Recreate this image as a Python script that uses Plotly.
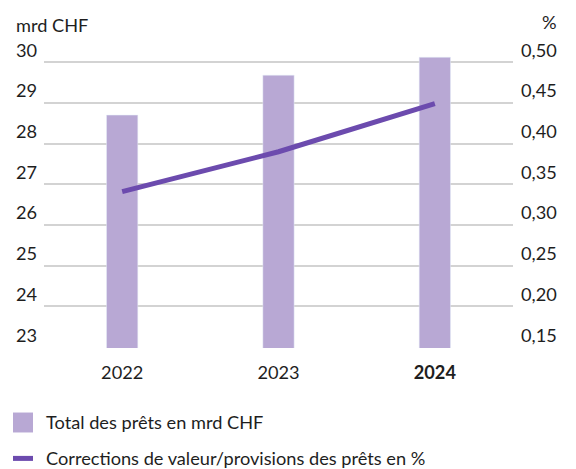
import plotly.graph_objects as go

years = ["2022", "2023", "2024"]
year_labels = ["2022", "2023", "<b>2024</b>"]
loans_bn = [28.70, 29.68, 30.12]
provisions_pct = [0.341, 0.390, 0.449]
left_ticks = [23, 24, 25, 26, 27, 28, 29, 30]
right_ticks = [0.15, 0.20, 0.25, 0.30, 0.35, 0.40, 0.45, 0.50]
bar_name = "Total des prêts en mrd CHF"
line_name = "Corrections de valeur/provisions des prêts en %"
left_title = "mrd CHF"
right_title = "%"

BAR_COLOR = "#B8A8D4"
LINE_COLOR = "#6C4BAE"
GRID = "#D3D3D3"
TEXT = "#1E1E1E"
FONT = "Lato"
FS = 18.2

W, H = 576, 469
ML, MR, MT, MB = 44, 63, 51.5, 120.7
L0, L1 = 22.98, 30.25
R0, R1 = 0.15 + (L0 - 23) * 0.05, 0.15 + (L1 - 23) * 0.05

pw = W - ML - MR
ph = H - MT - MB

def px(x):
    return (x - ML) / pw

def py(y):
    return (H - MB - y) / ph

fig = go.Figure()
fig.add_trace(go.Bar(x=years, y=loans_bn, name=bar_name, marker_color=BAR_COLOR,
                     width=0.2, showlegend=False, yaxis="y"))
fig.add_trace(go.Scatter(x=years, y=provisions_pct, name=line_name, mode="lines",
                         line=dict(color=LINE_COLOR, width=5), showlegend=False, yaxis="y2"))

fig.update_layout(
    width=W, height=H,
    margin=dict(l=ML, r=MR, t=MT, b=MB, autoexpand=False),
    paper_bgcolor="white", plot_bgcolor="white",
    font=dict(family=FONT, size=FS, color=TEXT),
    separators=", ",
    xaxis=dict(tickvals=years, ticktext=year_labels, showgrid=False, showline=False,
               ticks="", ticklabelstandoff=12, tickfont=dict(size=FS, color=TEXT)),
    yaxis=dict(range=[L0, L1], tickvals=left_ticks, showgrid=True, gridcolor=GRID, gridwidth=1.5,
               zeroline=False, showline=False, ticks="", ticklabelstandoff=6,
               ticklabelshift=-12, tickfont=dict(size=FS, color=TEXT)),
    yaxis2=dict(range=[R0, R1], tickvals=right_ticks, tickformat=".2f", overlaying="y",
                side="right", showgrid=False, zeroline=False, showline=False, ticks="",
                ticklabelstandoff=7, ticklabelshift=-12, tickfont=dict(size=FS, color=TEXT)),
    showlegend=False,
)

annotations = [
    dict(text=left_title, x=px(14), y=py(24), xref="paper", yref="paper",
         xanchor="left", yanchor="middle", showarrow=False, font=dict(size=FS, color=TEXT)),
    dict(text=right_title, x=px(559), y=py(21), xref="paper", yref="paper",
         xanchor="right", yanchor="middle", showarrow=False, font=dict(size=FS, color=TEXT)),
    dict(text=bar_name, x=px(44), y=py(423), xref="paper", yref="paper",
         xanchor="left", yanchor="middle", showarrow=False, font=dict(size=FS, color=TEXT)),
    dict(text=line_name, x=px(44), y=py(459), xref="paper", yref="paper",
         xanchor="left", yanchor="middle", showarrow=False, font=dict(size=FS, color=TEXT)),
]
shapes = [
    dict(type="rect", xref="paper", yref="paper", x0=px(13), x1=px(33), y0=py(413), y1=py(433),
         fillcolor=BAR_COLOR, line=dict(width=0)),
    dict(type="line", xref="paper", yref="paper", x0=px(13), x1=px(33), y0=py(459), y1=py(459),
         line=dict(color=LINE_COLOR, width=5)),
]
fig.update_layout(annotations=annotations, shapes=shapes)

fig.write_html("out.html", config={"displayModeBar": False},
               post_script="document.body.style.margin='0';")
